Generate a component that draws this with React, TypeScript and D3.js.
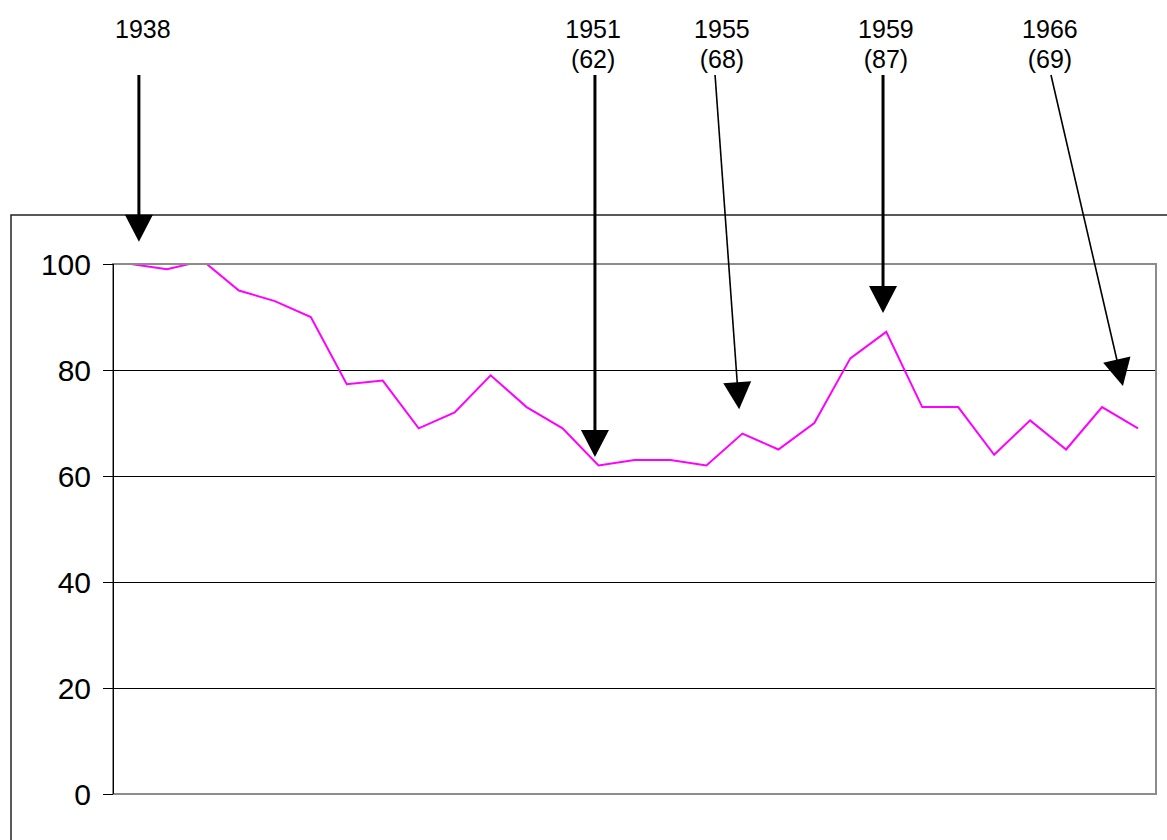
import { useRef, useEffect } from 'react';
import * as d3 from 'd3';

// yearly index, 1938 = 100
const years = [
  1938, 1939, 1940, 1941, 1942, 1943, 1944, 1945, 1946, 1947,
  1948, 1949, 1950, 1951, 1952, 1953, 1954, 1955, 1956, 1957,
  1958, 1959, 1960, 1961, 1962, 1963, 1964, 1965, 1966,
];
const values = [
  100, 99, 100.6, 95, 93, 90, 77.3, 78, 69, 72,
  79, 73, 69, 62, 63, 63, 62, 68, 65, 70,
  82.2, 87.2, 73, 73, 64, 70.5, 65, 73, 69,
];
const yTicks = [0, 20, 40, 60, 80, 100];

// callouts: label text, where the label sits (year units), arrow start / tip
const noteYears = ['1938', '1951', '1955', '1959', '1966'];
const noteValues = ['', '(62)', '(68)', '(87)', '(69)'];
const noteLabelAt = [1938.33, 1950.85, 1954.43, 1958.99, 1963.55];
const arrowFromYear = [1938.22, 1950.9, 1954.24, 1958.91, 1963.58];
const arrowToYear = [1938.22, 1950.9, 1954.91, 1958.91, 1965.58];
const arrowToValue = [104.2, 63.6, 72.6, 90.75, 77];

const W = 1167;
const H = 840;
const PLOT = { left: 113, top: 264, right: 1156, bottom: 794 };
const FRAME = { left: 11, top: 215 };
const ARROW_TOP = 75;
const HEAVY = new Set(['1938', '1951', '1959']);
const FONT = 'Arial, "Liberation Sans", Helvetica, sans-serif';

export default function App() {
  const svgRef = useRef<SVGSVGElement | null>(null);

  useEffect(() => {
    if (!svgRef.current) return;
    const svg = d3.select(svgRef.current);
    svg.selectAll('*').remove();

    const x = d3.scaleLinear().domain([years[0] - 0.5, years[years.length - 1] + 0.5]).range([PLOT.left, PLOT.right]);
    const y = d3.scaleLinear().domain([0, 100]).range([PLOT.bottom, PLOT.top]);

    svg.append('rect').attr('width', W).attr('height', H).attr('fill', '#fff');

    // outer chart frame (runs off the page right and bottom)
    svg.append('path')
      .attr('d', `M${FRAME.left},${H} V${FRAME.top} H${W}`)
      .attr('fill', 'none').attr('stroke', '#222').attr('stroke-width', 1.5);

    // grid lines
    svg.append('g').selectAll('line').data(yTicks.filter(t => t > 0 && t < 100)).join('line')
      .attr('x1', PLOT.left).attr('x2', PLOT.right)
      .attr('y1', d => y(d) + 0.5).attr('y2', d => y(d) + 0.5)
      .attr('stroke', '#000').attr('stroke-width', 1);

    // data line, clipped to plot area
    svg.append('clipPath').attr('id', 'plotClip')
      .append('rect').attr('x', PLOT.left).attr('y', PLOT.top)
      .attr('width', PLOT.right - PLOT.left).attr('height', PLOT.bottom - PLOT.top);

    const line = d3.line<number>().x((_, i) => x(years[i])).y(d => y(d));
    svg.append('path')
      .datum(values)
      .attr('d', line)
      .attr('clip-path', 'url(#plotClip)')
      .attr('fill', 'none').attr('stroke', '#ff00ff').attr('stroke-width', 2)
      .attr('stroke-linejoin', 'miter');

    // plot border
    svg.append('rect')
      .attr('x', PLOT.left).attr('y', PLOT.top)
      .attr('width', PLOT.right - PLOT.left).attr('height', PLOT.bottom - PLOT.top)
      .attr('fill', 'none').attr('stroke', '#8c8c8c').attr('stroke-width', 2);

    // y axis
    svg.append('line')
      .attr('x1', PLOT.left + 0.5).attr('x2', PLOT.left + 0.5)
      .attr('y1', PLOT.top).attr('y2', PLOT.bottom)
      .attr('stroke', '#000').attr('stroke-width', 1);
    const ticks = svg.append('g').selectAll('g').data(yTicks).join('g');
    ticks.append('line')
      .attr('x1', PLOT.left - 10).attr('x2', PLOT.left)
      .attr('y1', d => y(d) + 0.5).attr('y2', d => y(d) + 0.5)
      .attr('stroke', '#000');
    ticks.append('text')
      .attr('x', PLOT.left - 22).attr('y', d => y(d))
      .attr('dy', '0.36em').attr('text-anchor', 'end')
      .style('font-family', FONT).style('font-size', '30px').attr('fill', '#000')
      .text(d => d);

    // callouts
    const notes = svg.append('g');
    noteYears.forEach((label, i) => {
      const lx = x(noteLabelAt[i]);
      notes.append('text')
        .attr('x', lx).attr('y', 38).attr('text-anchor', 'middle')
        .style('font-family', FONT).style('font-size', '25px').attr('fill', '#000')
        .text(label);
      if (noteValues[i]) {
        notes.append('text')
          .attr('x', lx).attr('y', 68).attr('text-anchor', 'middle')
          .style('font-family', FONT).style('font-size', '25px').attr('fill', '#000')
          .text(noteValues[i]);
      }

      const x0 = x(arrowFromYear[i]);
      const y0 = ARROW_TOP;
      const x1 = x(arrowToYear[i]);
      const y1 = y(arrowToValue[i]);
      const len = Math.hypot(x1 - x0, y1 - y0);
      const ux = (x1 - x0) / len;
      const uy = (y1 - y0) / len;
      const headL = 27;
      const headW = 14;
      const bx = x1 - ux * headL;
      const by = y1 - uy * headL;

      notes.append('line')
        .attr('x1', x0).attr('y1', y0).attr('x2', bx + ux * 2).attr('y2', by + uy * 2)
        .attr('stroke', '#000').attr('stroke-width', HEAVY.has(label) ? 3 : 1.6);
      notes.append('path')
        .attr('d', `M${x1},${y1} L${bx - uy * headW},${by + ux * headW} L${bx + uy * headW},${by - ux * headW} Z`)
        .attr('fill', '#000');
    });
  }, []);

  return (
    <div style={{ position: 'fixed', left: 0, top: 0, width: W, height: H, background: '#fff' }}>
      <svg ref={svgRef} width={W} height={H} style={{ display: 'block' }} role="img"
        aria-label="Index line 1938-1966 with annotated years" />
    </div>
  );
}
